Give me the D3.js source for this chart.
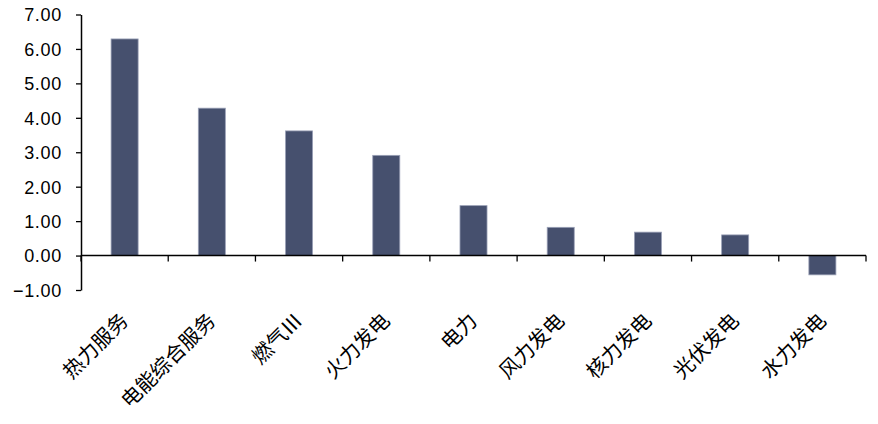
<!DOCTYPE html>
<html><head><meta charset="utf-8">
<script src="https://cdn.jsdelivr.net/npm/d3@7"></script>
<style>
html,body{margin:0;padding:0;background:#fff;}
svg{display:block;}
</style></head>
<body>
<svg id="chart" width="878" height="424"></svg>
<script>
const categories = ["热力服务","电能综合服务","燃气Ⅲ","火力发电","电力","风力发电","核力发电","光伏发电","水力发电"];
const values = [6.29, 4.28, 3.62, 2.91, 1.45, 0.82, 0.68, 0.60, -0.56];
const yTicks = [-1, 0, 1, 2, 3, 4, 5, 6, 7];

const svg = d3.select("#chart");
const mLeft = 81, mRight = 866, mTop = 14.5, mBottom = 290;

const x = d3.scaleBand().domain(categories).range([mLeft, mRight]).paddingInner(0.69).paddingOuter(0.345);
const y = d3.scaleLinear().domain([-1, 7]).range([mBottom, mTop]);

// bars
svg.append("g").selectAll("rect").data(values).join("rect")
  .attr("x", (d,i) => x(categories[i]))
  .attr("width", x.bandwidth())
  .attr("y", d => y(Math.max(0, d)))
  .attr("height", d => Math.abs(y(d) - y(0)))
  .attr("fill", "#46506e")
  .attr("stroke", "#9aa0b6")
  .attr("stroke-width", 0.8);

// y axis
const yAxis = d3.axisLeft(y).tickValues(yTicks).tickFormat(d3.format(".2f")).tickSize(5).tickSizeOuter(0);
const gy = svg.append("g").attr("transform", `translate(${mLeft},0)`).call(yAxis);
gy.select(".domain").attr("stroke", "#000").attr("stroke-width", 1.5);
gy.selectAll(".tick line").attr("stroke", "#000").attr("stroke-width", 1.3);
gy.selectAll(".tick text")
  .attr("x", -19)
  .attr("dy", "0.35em")
  .style("font-family", "'Liberation Sans', Arial, sans-serif")
  .style("font-size", "18px")
  .style("letter-spacing", "0.7px")
  .attr("fill", "#000");

// x axis at zero
const step = x.step();
const xTickPos = d3.range(categories.length + 1).map(i => mLeft + i * step);
const gx = svg.append("g");
gx.append("line").attr("x1", mLeft).attr("x2", mRight).attr("y1", y(0)).attr("y2", y(0))
  .attr("stroke", "#000").attr("stroke-width", 1.5);
gx.selectAll("line.tk").data(xTickPos).join("line").attr("class","tk")
  .attr("x1", d => d).attr("x2", d => d).attr("y1", y(0)).attr("y2", y(0) + 6)
  .attr("stroke", "#000").attr("stroke-width", 1.3);

// category labels
svg.append("g").selectAll("text").data(categories).join("text")
  .attr("transform", d => `translate(${x(d) + x.bandwidth()/2 + 5},${322}) rotate(-45)`)
  .attr("text-anchor", "end")
  .style("font-family", "'Noto Sans CJK SC', sans-serif")
  .style("font-size", "20.5px")
  .attr("fill", "#000")
  .text(d => d);
</script>
</body></html>
